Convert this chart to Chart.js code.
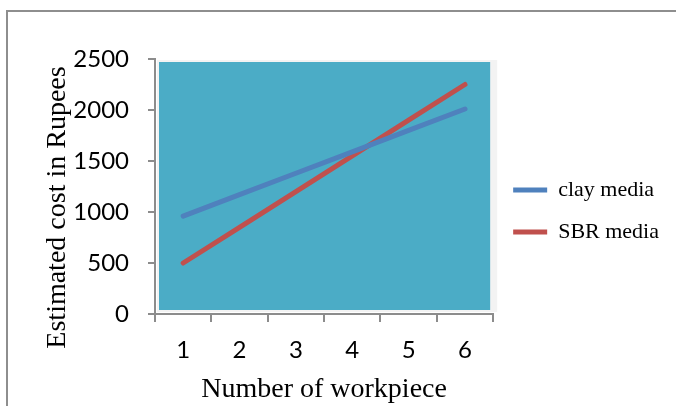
<!DOCTYPE html>
<html>
<head>
<meta charset="utf-8">
<script src="https://cdn.jsdelivr.net/npm/chart.js@4/dist/chart.umd.min.js"></script>
<style>
  html, body { margin: 0; padding: 0; background: #ffffff; overflow: hidden; }
  #frame { position: absolute; left: 6px; top: 10px; width: 720px; height: 460px; border: 2px solid #8e8e8e; box-sizing: border-box; }
  #wrap { position: absolute; left: 0; top: 0; width: 676px; height: 406px; }
</style>
</head>
<body>
<div id="frame"></div>
<div id="wrap"><canvas id="c" width="676" height="406"></canvas></div>
<script>
const categories = ['1', '2', '3', '4', '5', '6'];
const clayMedia = [960, 1170, 1380, 1590, 1800, 2010];
const sbrMedia = [500, 850, 1200, 1550, 1900, 2250];
const seriesNames = ['clay media', 'SBR media'];
const yTicks = { min: 0, max: 2500, step: 500 };

const plotBg = {
  id: 'plotBg',
  beforeDatasetsDraw(chart) {
    const a = chart.chartArea, ctx = chart.ctx;
    ctx.save();
    ctx.fillStyle = '#f3f3f3';
    ctx.fillRect(a.left + 2, a.top + 1, a.right - a.left + 2, a.bottom - a.top - 3);
    ctx.fillStyle = '#4BACC6';
    ctx.fillRect(a.left + 4, a.top + 3, a.right - a.left - 7, a.bottom - a.top - 7);
    ctx.restore();
  }
};

new Chart(document.getElementById('c'), {
  type: 'line',
  data: {
    labels: categories,
    datasets: [
      { label: seriesNames[0], data: clayMedia, borderColor: '#4F81BD', backgroundColor: '#4F81BD',
        borderWidth: 5, pointRadius: 0, tension: 0, borderCapStyle: 'round' },
      { label: seriesNames[1], data: sbrMedia, borderColor: '#C0504D', backgroundColor: '#C0504D',
        borderWidth: 5, pointRadius: 0, tension: 0, borderCapStyle: 'round' }
    ]
  },
  options: {
    responsive: false,
    animation: false,
    layout: { padding: { left: 41, top: 16, right: 7, bottom: 0 } },
    plugins: {
      tooltip: { enabled: false },
      title: { display: true, text: '', fullSize: false, padding: { top: 31, bottom: 0 }, font: { size: 10 } },
      legend: {
        position: 'right',
        align: 'center',
        maxWidth: 240,
        labels: {
          usePointStyle: true,
          pointStyle: 'line',
          pointStyleWidth: 34,
          boxHeight: 5,
          padding: 20,
          color: '#000000',
          font: { family: '"Liberation Serif", serif', size: 22 }
        }
      }
    },
    scales: {
      x: {
        offset: true,
        afterFit(scale) { scale.height = 92; },
        grid: { offset: true, drawOnChartArea: false, drawTicks: true, tickLength: 8, color: '#8c8c8c', lineWidth: 2 },
        border: { color: '#8c8c8c', width: 2 },
        ticks: { color: '#000000', padding: 14, maxRotation: 0, font: { family: 'Lato, sans-serif', size: 24 } },
        title: { display: true, text: 'Number of workpiece', color: '#000000', padding: { top: 0, bottom: 0 },
                 font: { family: '"Liberation Serif", serif', size: 28 } }
      },
      y: {
        min: yTicks.min, max: yTicks.max,
        afterFit(scale) { scale.width = 114; },
        grid: { drawOnChartArea: false, drawTicks: true, tickLength: 7, color: '#8c8c8c', lineWidth: 2 },
        border: { color: '#8c8c8c', width: 2 },
        ticks: { stepSize: yTicks.step, color: '#000000', padding: 19, callback: (v) => String(v),
                 font: { family: 'Lato, sans-serif', size: 24 } },
        title: { display: true, text: 'Estimated cost in Rupees\u00A0\u00A0\u00A0\u00A0\u00A0\u00A0', color: '#000000', padding: { top: 0, bottom: 4 },
                 font: { family: '"Liberation Serif", serif', size: 28 } }
      }
    }
  },
  plugins: [plotBg]
});
</script>
</body>
</html>
